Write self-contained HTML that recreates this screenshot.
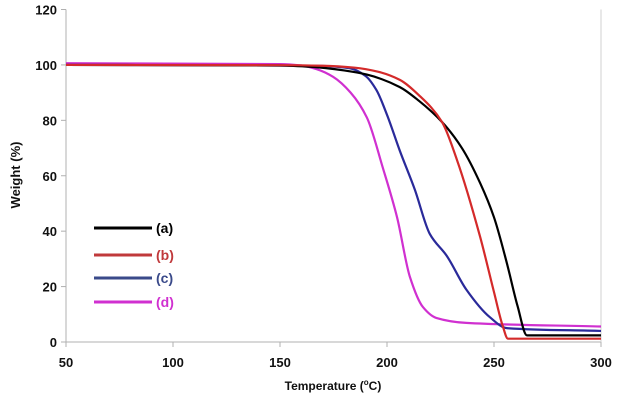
<!DOCTYPE html>
<html><head><meta charset="utf-8"><style>
html,body{margin:0;padding:0;background:#fff;width:620px;height:400px;overflow:hidden}
text{font-family:"Liberation Sans",sans-serif;font-weight:bold}
</style></head><body>
<svg id="chart" width="620" height="400" xmlns="http://www.w3.org/2000/svg"></svg>
<script>
const xTicks=[50,100,150,200,250,300];
const yTicks=[0,20,40,60,80,100,120];
const seriesNames=["(a)","(b)","(c)","(d)"];
const seriesColors=["#000000","#d42a2a","#2a2a9a","#d030d0"];
const legendColors=["#000000","#c0393b","#3a4a8a","#d030d0"];
const tempA=[50,150,165,180,190.6,206,215,225.7,235,243.5,250,256,261,265.4,300];
const weightA=[100,99.8,99.3,98,96.5,92,87,79.4,70,57.4,45,28.5,13,2.4,2.4];
const tempB=[50,150,170,185,196,206,215,225.7,232.7,243.5,250,254,256.5,300];
const weightB=[100,99.9,99.7,99,97.5,94.6,89,79.4,65.7,38,18,6,1.2,1.2];
const tempC=[50,150,170,182.7,190,195,200,206,213,220,228,237,248,256,300];
const weightC=[100,99.8,99.6,98.8,96,91,82,69,55,39,31,19,9,5,4];
const tempD=[50,150,160,167,174.8,183,190.6,198,204.7,210.7,216.8,223,237,300];
const weightD=[100.6,100.3,99.8,98.5,95.7,90,81,63,45,23.5,12.6,8.7,6.9,5.6];
const temps=[tempA,tempB,tempC,tempD];
const weights=[weightA,weightB,weightC,weightD];

const svg=document.getElementById('chart');
const NS="http://www.w3.org/2000/svg";
const X0=66,X1=601,Y0=342,Y1=9.5;
function xs(v){return X0+(v-50)/250*(X1-X0);}
function ys(v){return Y0-(v/120)*(Y0-Y1);}
function mk(t,a){const e=document.createElementNS(NS,t);for(const k in a)e.setAttribute(k,a[k]);svg.appendChild(e);return e;}

let e;
e=mk('line',{x1:X0,y1:Y1,x2:X0,y2:Y0,stroke:'#b0b0b0','stroke-width':1});


e=mk('line',{x1:X0,y1:Y0,x2:X1,y2:Y0,stroke:'#b0b0b0','stroke-width':1});


e=mk('line',{x1:X1,y1:Y1,x2:X1,y2:Y0,stroke:'#d0d0d0','stroke-width':1});



yTicks.forEach(v=>{
  const y=ys(v);
  let t=mk('line',{x1:X0-5,y1:y,x2:X0,y2:y,stroke:'#b0b0b0'});
  
  
  let l=mk('text',{x:X0-9,y:y+5,'text-anchor':'end','font-size':13,fill:'#111'});
  l.textContent=v;
  
  
});
xTicks.forEach(v=>{
  const x=xs(v);
  let t=mk('line',{x1:x,y1:Y0,x2:x,y2:Y0+5,stroke:'#b0b0b0'});
  
  
  let l=mk('text',{x:x,y:Y0+25,'text-anchor':'middle','font-size':13,fill:'#111'});
  l.textContent=v;
  
  
});

function pathFor(T,W){
  const px=T.map(xs),py=W.map(ys),n=px.length;
  const dl=[],m=[];
  for(let i=0;i<n-1;i++)dl.push((py[i+1]-py[i])/(px[i+1]-px[i]));
  m[0]=dl[0];m[n-1]=dl[n-2];
  for(let i=1;i<n-1;i++){
    if(dl[i-1]*dl[i]<=0)m[i]=0;
    else{const h0=px[i]-px[i-1],h1=px[i+1]-px[i];
      m[i]=3*(h0+h1)/((2*h1+h0)/dl[i-1]+(h1+2*h0)/dl[i]);}
  }
  let d='M'+px[0]+','+py[0];
  for(let i=0;i<n-1;i++){
    const h=(px[i+1]-px[i])/3;
    d+=' C'+(px[i]+h)+','+(py[i]+m[i]*h)+' '+(px[i+1]-h)+','+(py[i+1]-m[i+1]*h)+' '+px[i+1]+','+py[i+1];
  }
  return d;
}
const order=[3,2,0,1];
order.forEach(i=>{
  let s=mk('path',{d:pathFor(temps[i],weights[i]),fill:'none',stroke:seriesColors[i],'stroke-width':2.2});
  
  
});

const ly=[228,255,278,302];
seriesNames.forEach((n,i)=>{
  let l=mk('line',{x1:94,y1:ly[i],x2:152,y2:ly[i],stroke:legendColors[i],'stroke-width':3});
  
  
  let t=mk('text',{x:156,y:ly[i]+5,'font-size':14,fill:legendColors[i]});
  t.textContent=n;
  
  
});

let yt=mk('text',{x:0,y:0,'font-size':13,fill:'#111','text-anchor':'middle',transform:'translate(20,175) rotate(-90)'});
yt.textContent='Weight (%)';


let xt=mk('text',{x:333,y:390,'font-size':12,fill:'#111','text-anchor':'middle'});
xt.innerHTML='Temperature (<tspan font-size="8" dy="-5">o</tspan><tspan dy="5">C)</tspan>';


</script>
</body></html>
